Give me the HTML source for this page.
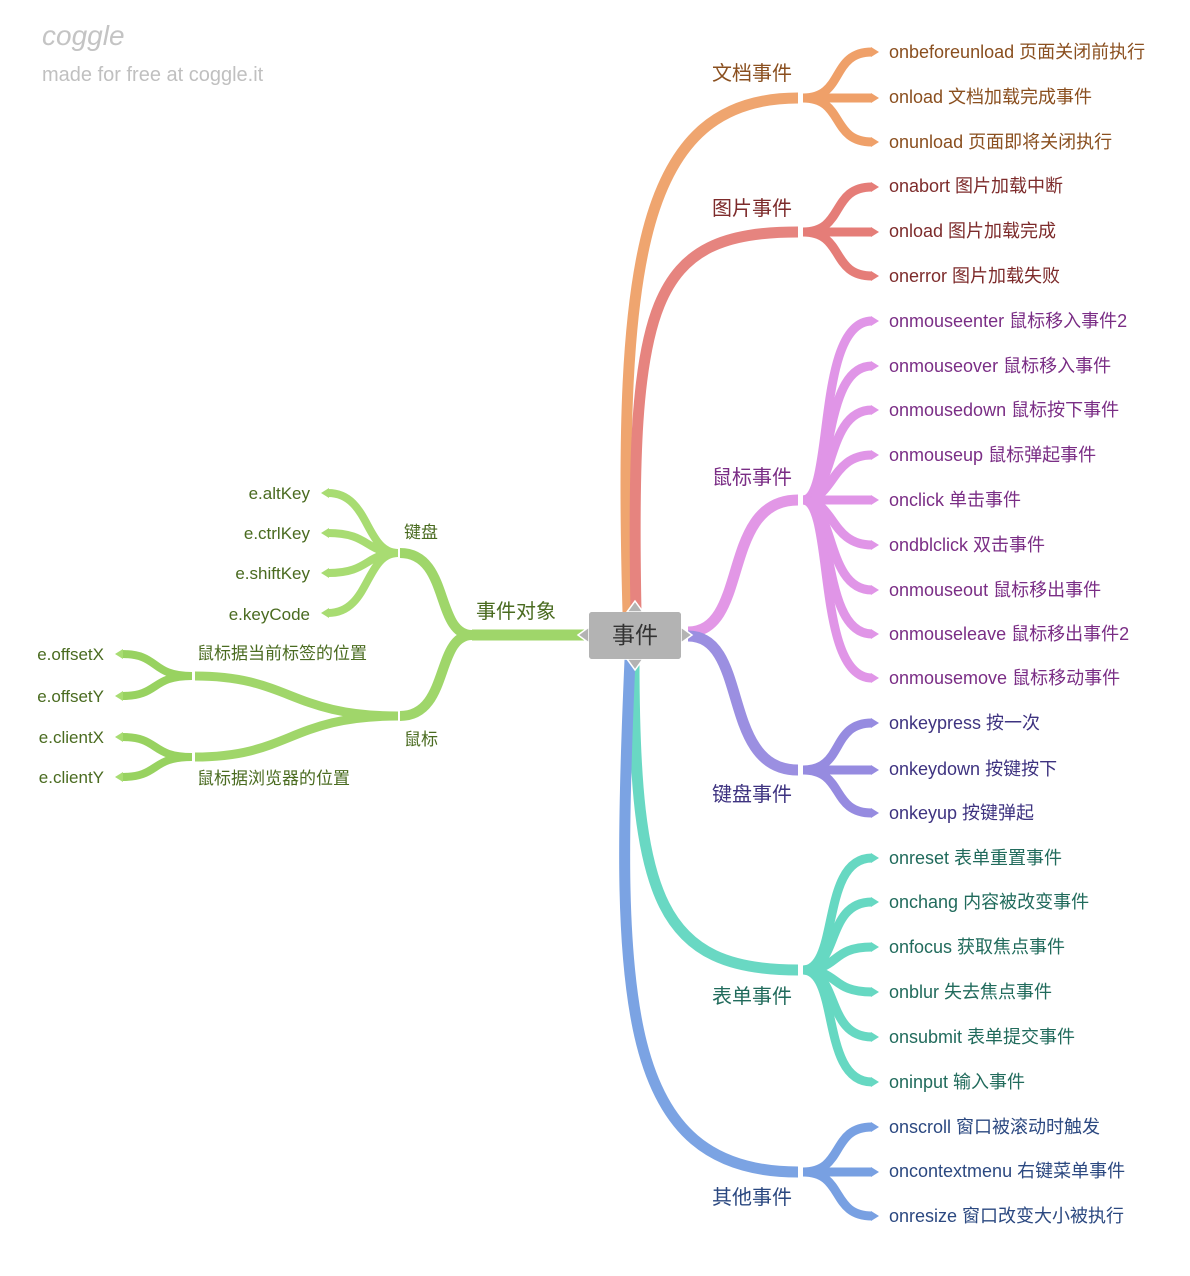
<!DOCTYPE html>
<html><head><meta charset="utf-8"><style>
html,body{margin:0;padding:0;background:#fff;}
svg{display:block;}
text{font-family:"Liberation Sans","Noto Sans CJK SC",sans-serif;}
</style></head><body>
<svg width="1190" height="1276" viewBox="0 0 1190 1276" xmlns="http://www.w3.org/2000/svg">
<text x="42" y="45" font-size="28" fill="#c4c4c4" font-style="italic" font-family="Liberation Serif,serif">coggle</text>
<text x="42" y="81" font-size="20" fill="#c0c0c0">made for free at coggle.it</text>

<g fill="none" stroke-linecap="butt">
<!-- main branches -->
<path d="M628,612 C618,260 640,98 798,98" stroke="#efa56f" stroke-width="11"/>
<path d="M636,612 C630,300 650,232 798,232" stroke="#e6847f" stroke-width="11"/>
<path d="M688,632 C750,632 720,500 798,500" stroke="#e297e6" stroke-width="11"/>
<path d="M688,636 C750,636 720,770 798,770" stroke="#9b8fe1" stroke-width="11"/>
<path d="M634,660 C634,900 660,970 798,970" stroke="#69d8c3" stroke-width="11"/>
<path d="M630,660 C615,1000 620,1172 798,1172" stroke="#7ba3e3" stroke-width="11"/>
<path d="M589,635 L472,635" stroke="#9fd66a" stroke-width="11"/>

<!-- orange leaves -->
<g stroke="#efa069" stroke-width="9">
<path d="M803,98 C845,98 830,52 872,52"/><path d="M803,98 L872,98"/><path d="M803,98 C845,98 830,142 872,142"/>
</g>
<g stroke="#e57d78" stroke-width="9">
<path d="M803,232 C845,232 830,187 872,187"/><path d="M803,232 L872,232"/><path d="M803,232 C845,232 830,276 872,276"/>
</g>
<g stroke="#e095e7" stroke-width="9">
<path d="M803,500 C835,500 815,321 872,321"/><path d="M803,500 C835,500 820,366 872,366"/><path d="M803,500 C835,500 825,410 872,410"/><path d="M803,500 C835,500 830,455 872,455"/><path d="M803,500 L872,500"/><path d="M803,500 C835,500 830,545 872,545"/><path d="M803,500 C835,500 825,590 872,590"/><path d="M803,500 C835,500 820,634 872,634"/><path d="M803,500 C835,500 815,678 872,678"/>
</g>
<g stroke="#968be0" stroke-width="9">
<path d="M803,770 C845,770 830,723 872,723"/><path d="M803,770 L872,770"/><path d="M803,770 C845,770 830,813 872,813"/>
</g>
<g stroke="#66d8c2" stroke-width="9">
<path d="M803,970 C840,970 820,858 872,858"/><path d="M803,970 C840,970 825,902 872,902"/><path d="M803,970 C840,970 830,947 872,947"/><path d="M803,970 C840,970 830,992 872,992"/><path d="M803,970 C840,970 825,1037 872,1037"/><path d="M803,970 C840,970 820,1082 872,1082"/>
</g>
<g stroke="#78a0e2" stroke-width="9">
<path d="M803,1172 C845,1172 830,1127 872,1127"/><path d="M803,1172 L872,1172"/><path d="M803,1172 C845,1172 830,1216 872,1216"/>
</g>

<!-- left -->
<g stroke="#9fd66a" stroke-width="10">
<path d="M472,635 C435,635 450,553 400,553"/>
<path d="M472,635 C435,635 450,716 400,716"/>
</g>
<g stroke="#a8dc72" stroke-width="8">
<path d="M398,553 C365,553 370,493 328,493"/><path d="M398,553 C365,553 370,533 328,533"/><path d="M398,553 C365,553 370,573 328,573"/><path d="M398,553 C365,553 370,613 328,613"/>
</g>
<g stroke="#a0d66a" stroke-width="9">
<path d="M398,716 C290,716 290,676 195,676"/>
<path d="M398,716 C290,716 290,757 195,757"/>
</g>
<g stroke="#98d260" stroke-width="8">
<path d="M192,676 C150,676 160,654 122,654"/><path d="M192,676 C150,676 160,696 122,696"/>
<path d="M192,757 C150,757 160,737 122,737"/><path d="M192,757 C150,757 160,777 122,777"/>
</g>
</g>

<!-- arrow tips -->
<g fill="#efa069"><polygon points="871,47 879,52 871,57"/><polygon points="871,93 879,98 871,103"/><polygon points="871,137 879,142 871,147"/></g>
<g fill="#e57d78"><polygon points="871,182 879,187 871,192"/><polygon points="871,227 879,232 871,237"/><polygon points="871,271 879,276 871,281"/></g>
<g fill="#e095e7"><polygon points="871,316 879,321 871,326"/><polygon points="871,361 879,366 871,371"/><polygon points="871,405 879,410 871,415"/><polygon points="871,450 879,455 871,460"/><polygon points="871,495 879,500 871,505"/><polygon points="871,540 879,545 871,550"/><polygon points="871,585 879,590 871,595"/><polygon points="871,629 879,634 871,639"/><polygon points="871,673 879,678 871,683"/></g>
<g fill="#968be0"><polygon points="871,718 879,723 871,728"/><polygon points="871,765 879,770 871,775"/><polygon points="871,808 879,813 871,818"/></g>
<g fill="#66d8c2"><polygon points="871,853 879,858 871,863"/><polygon points="871,897 879,902 871,907"/><polygon points="871,942 879,947 871,952"/><polygon points="871,987 879,992 871,997"/><polygon points="871,1032 879,1037 871,1042"/><polygon points="871,1077 879,1082 871,1087"/></g>
<g fill="#78a0e2"><polygon points="871,1122 879,1127 871,1132"/><polygon points="871,1167 879,1172 871,1177"/><polygon points="871,1211 879,1216 871,1221"/></g>
<g fill="#a8dc72"><polygon points="329,488 321,493 329,498"/><polygon points="329,528 321,533 329,538"/><polygon points="329,568 321,573 329,578"/><polygon points="329,608 321,613 329,618"/><polygon points="123,649 115,654 123,659"/><polygon points="123,691 115,696 123,701"/><polygon points="123,732 115,737 123,742"/><polygon points="123,772 115,777 123,782"/></g>

<!-- center node -->
<rect x="589" y="612" width="92" height="47" rx="3" fill="#b3b3b3"/>
<polygon points="627,612 635,601 643,612" fill="#b3b3b3" stroke="#fff" stroke-width="1.5"/>
<polygon points="627,659 635,670 643,659" fill="#b3b3b3" stroke="#fff" stroke-width="1.5"/>
<polygon points="589,627 578,635 589,643" fill="#b3b3b3" stroke="#fff" stroke-width="1.5"/>
<polygon points="681,627 692,635 681,643" fill="#b3b3b3" stroke="#fff" stroke-width="1.5"/>
<rect x="589" y="612" width="92" height="47" rx="3" fill="#b3b3b3"/>
<text x="635" y="643" font-size="23" fill="#333" text-anchor="middle">事件</text>

<!-- branch labels -->
<g font-size="20">
<text x="712" y="80" fill="#8a4f1f">文档事件</text>
<text x="712" y="215" fill="#7d2b2b">图片事件</text>
<text x="712" y="484" fill="#7a2d85">鼠标事件</text>
<text x="712" y="801" fill="#3e3380">键盘事件</text>
<text x="712" y="1003" fill="#216b5c">表单事件</text>
<text x="712" y="1204" fill="#2b4880">其他事件</text>
<text x="476" y="618" fill="#4a6b20">事件对象</text>
</g>

<g font-size="18">
<g fill="#8a4f1f"><text x="889" y="58">onbeforeunload 页面关闭前执行</text><text x="889" y="103">onload 文档加载完成事件</text><text x="889" y="148">onunload 页面即将关闭执行</text></g>
<g fill="#7d2b2b"><text x="889" y="192">onabort 图片加载中断</text><text x="889" y="237">onload 图片加载完成</text><text x="889" y="282">onerror 图片加载失败</text></g>
<g fill="#7a2d85"><text x="889" y="327">onmouseenter 鼠标移入事件2</text><text x="889" y="372">onmouseover 鼠标移入事件</text><text x="889" y="416">onmousedown 鼠标按下事件</text><text x="889" y="461">onmouseup 鼠标弹起事件</text><text x="889" y="506">onclick 单击事件</text><text x="889" y="551">ondblclick 双击事件</text><text x="889" y="596">onmouseout 鼠标移出事件</text><text x="889" y="640">onmouseleave 鼠标移出事件2</text><text x="889" y="684">onmousemove 鼠标移动事件</text></g>
<g fill="#3e3380"><text x="889" y="729">onkeypress 按一次</text><text x="889" y="775">onkeydown 按键按下</text><text x="889" y="819">onkeyup 按键弹起</text></g>
<g fill="#216b5c"><text x="889" y="864">onreset 表单重置事件</text><text x="889" y="908">onchang 内容被改变事件</text><text x="889" y="953">onfocus 获取焦点事件</text><text x="889" y="998">onblur 失去焦点事件</text><text x="889" y="1043">onsubmit 表单提交事件</text><text x="889" y="1088">oninput 输入事件</text></g>
<g fill="#2b4880"><text x="889" y="1133">onscroll 窗口被滚动时触发</text><text x="889" y="1177">oncontextmenu 右键菜单事件</text><text x="889" y="1222">onresize 窗口改变大小被执行</text></g>
</g>

<g font-size="17" fill="#4a6b20">
<text x="404" y="538">键盘</text>
<text x="404" y="745">鼠标</text>
<text x="310" y="499" text-anchor="end">e.altKey</text>
<text x="310" y="539" text-anchor="end">e.ctrlKey</text>
<text x="310" y="579" text-anchor="end">e.shiftKey</text>
<text x="310" y="620" text-anchor="end">e.keyCode</text>
<text x="197" y="659">鼠标据当前标签的位置</text>
<text x="197" y="784">鼠标据浏览器的位置</text>
<text x="104" y="660" text-anchor="end">e.offsetX</text>
<text x="104" y="702" text-anchor="end">e.offsetY</text>
<text x="104" y="743" text-anchor="end">e.clientX</text>
<text x="104" y="783" text-anchor="end">e.clientY</text>
</g>
</svg>
</body></html>
